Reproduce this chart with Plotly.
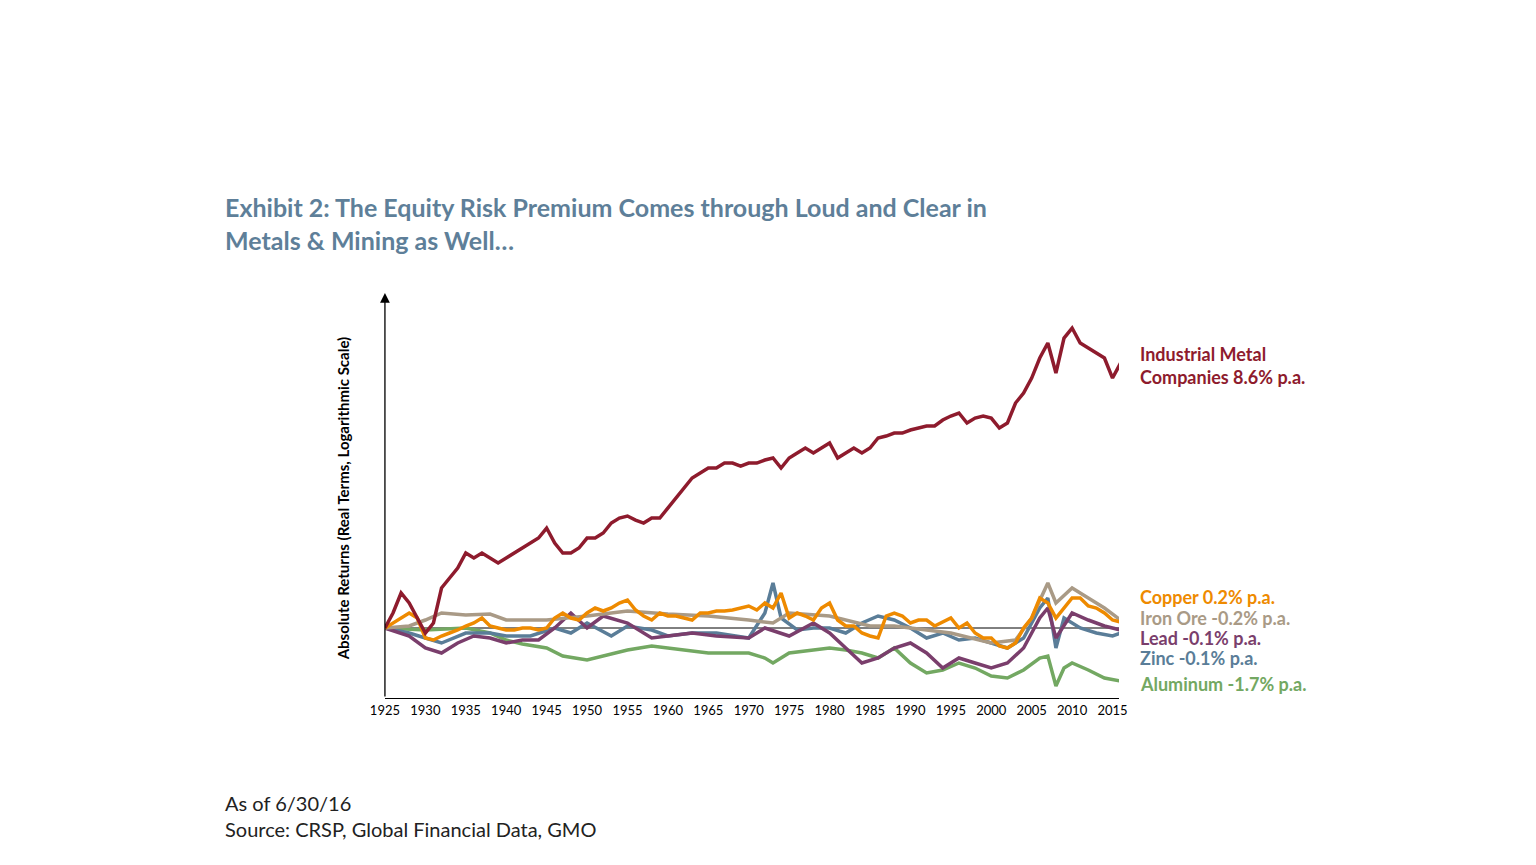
import plotly.graph_objects as go

# values are log-scale offsets from the 1925 starting level (arbitrary units)
ind_years = list(range(1925, 2017))
ind_vals = [0, 15, 35, 25, 10, -5, 5, 40, 50, 60, 75, 70, 75, 70, 65, 70, 75, 80, 85, 90,
            100, 85, 75, 75, 80, 90, 90, 95, 105, 110, 112, 108, 105, 110, 110, 120, 130, 140,
            150, 155, 160, 160, 165, 165, 162, 165, 165, 168, 170, 160, 170, 175, 180, 175,
            180, 185, 170, 175, 180, 175, 180, 190, 192, 195, 195, 198, 200, 202, 202, 208,
            212, 215, 205, 210, 212, 210, 200, 205, 225, 235, 250, 270, 285, 255, 290, 300,
            285, 280, 275, 270, 250, 265]

cu_years = list(range(1925, 2017))
cu_vals = [0, 5, 10, 15, 10, -10, -12, -8, -5, -2, 2, 5, 10, 2, 0, -2, -2, 0, 0, -2, 0, 10,
           15, 10, 8, 15, 20, 17, 20, 25, 28, 18, 12, 8, 15, 12, 12, 10, 8, 15, 15, 17, 17, 18,
           20, 22, 18, 25, 20, 35, 10, 15, 12, 8, 20, 25, 8, 2, 2, -5, -8, -10, 12, 15, 12, 5,
           8, 8, 2, 6, 10, 0, 5, -5, -10, -10, -18, -20, -15, 0, 10, 30, 25, 10, 20, 30, 30,
           22, 20, 15, 8, 6]

fe_years = [1925, 1928, 1930, 1932, 1935, 1938, 1940, 1945, 1950, 1955, 1960, 1965, 1970,
            1973, 1975, 1980, 1985, 1988, 1990, 1995, 2000, 2003, 2005, 2007, 2008, 2010,
            2012, 2014, 2016]
fe_vals = [0, 2, 8, 15, 13, 14, 8, 8, 12, 17, 14, 12, 8, 5, 15, 12, 2, 2, 0, -5, -15, -12,
           10, 45, 25, 40, 30, 20, 8]

pb_years = [1925, 1928, 1930, 1932, 1934, 1936, 1938, 1940, 1942, 1944, 1946, 1948, 1950,
            1952, 1955, 1958, 1960, 1963, 1966, 1970, 1972, 1975, 1978, 1980, 1982, 1984,
            1986, 1988, 1990, 1992, 1994, 1996, 1998, 2000, 2002, 2004, 2006, 2007, 2008,
            2010, 2012, 2014, 2016]
pb_vals = [0, -8, -20, -25, -15, -8, -10, -15, -12, -12, 0, 15, 0, 12, 5, -10, -8, -5, -8,
           -10, 0, -8, 5, -5, -20, -35, -30, -20, -15, -25, -40, -30, -35, -40, -35, -20, 10,
           20, -10, 15, 8, 2, -2]

zn_years = [1925, 1928, 1930, 1932, 1935, 1938, 1940, 1943, 1946, 1948, 1950, 1953, 1955,
            1958, 1960, 1963, 1966, 1970, 1972, 1973, 1974, 1976, 1978, 1980, 1982, 1984,
            1986, 1988, 1990, 1992, 1994, 1996, 1998, 2000, 2002, 2004, 2006, 2007, 2008,
            2009, 2011, 2013, 2015, 2016]
zn_vals = [0, -5, -10, -15, -5, -5, -8, -8, 0, -5, 5, -8, 2, -2, -8, -5, -5, -10, 15, 45,
           10, -2, 0, 0, -5, 5, 12, 8, 0, -10, -5, -12, -10, -15, -20, -10, 20, 30, -20, 10,
           0, -5, -8, -5]

al_years = [1925, 1930, 1935, 1938, 1940, 1942, 1945, 1947, 1950, 1952, 1955, 1958, 1960,
            1963, 1965, 1970, 1972, 1973, 1975, 1978, 1980, 1982, 1984, 1986, 1988, 1990,
            1992, 1994, 1996, 1998, 2000, 2002, 2004, 2006, 2007, 2008, 2009, 2010, 2012,
            2014, 2016]
al_vals = [0, -2, 0, -5, -12, -16, -20, -28, -32, -28, -22, -18, -20, -23, -25, -25, -30,
           -35, -25, -22, -20, -22, -25, -30, -20, -35, -45, -42, -35, -40, -48, -50, -42,
           -30, -28, -58, -40, -35, -42, -50, -53]

series = [
    ("Aluminum", al_years, al_vals, "#73A862"),
    ("Zinc", zn_years, zn_vals, "#5A7D98"),
    ("Lead", pb_years, pb_vals, "#7A3E6C"),
    ("Iron Ore", fe_years, fe_vals, "#A99A86"),
    ("Copper", cu_years, cu_vals, "#EE8A00"),
    ("Industrial Metal Companies", ind_years, ind_vals, "#8E1B2D"),
]

labels = [
    ("Industrial Metal<br>Companies 8.6% p.a.", 263, "#8E1B2D"),
    ("Copper 0.2% p.a.", 31, "#EE8A00"),
    ("Iron Ore -0.2% p.a.", 10, "#A99A86"),
    ("Lead -0.1% p.a.", -10, "#7A3E6C"),
    ("Zinc -0.1% p.a.", -30, "#5A7D98"),
    ("Aluminum -1.7% p.a.", -56, "#73A862"),
]

FONT = "Lato"
fig = go.Figure()
fig.add_trace(go.Scatter(x=[1925, 2016], y=[0, 0], mode="lines",
                         line=dict(color="black", width=1), showlegend=False))
for name, xs, ys, c in series:
    fig.add_trace(go.Scatter(x=xs, y=ys, mode="lines", name=name,
                             line=dict(color=c, width=3.5), showlegend=False))

for text, y, c in labels:
    fig.add_annotation(x=0.736, xref="paper", y=y, yref="y", text="<b>" + text + "</b>",
                       showarrow=False, xanchor="left", yanchor="middle", align="left",
                       font=dict(family=FONT, size=18, color=c))

fig.add_annotation(x=0.14, y=0.712, xref="paper", yref="paper", xanchor="left", yanchor="bottom",
                   text="<b>Exhibit 2: The Equity Risk Premium Comes through Loud and Clear in<br>Metals &amp; Mining as Well…</b>",
                   showarrow=False, align="left", font=dict(family=FONT, size=25, color="#5E7F99"))
fig.add_annotation(x=0.14, y=0.035, xref="paper", yref="paper", xanchor="left", yanchor="bottom",
                   text="As of 6/30/16<br>Source: CRSP, Global Financial Data, GMO",
                   showarrow=False, align="left", font=dict(family=FONT, size=20, color="#222"))
# y-axis arrow
fig.add_annotation(x=1925, y=335, ax=1925, ay=-70, xref="x", yref="y", axref="x", ayref="y",
                   showarrow=True, arrowhead=2, arrowsize=1.5, arrowwidth=1.3, arrowcolor="black", text="")

fig.update_layout(
    width=1536, height=865, autosize=False, margin=dict(l=0, r=0, t=0, b=0, autoexpand=False),
    paper_bgcolor="white", plot_bgcolor="white", font=dict(family=FONT),
    xaxis=dict(domain=[0.2454, 0.7233], range=[1925, 2015.8], tickvals=list(range(1925, 2016, 5)),
               showgrid=False, zeroline=False, showline=True, linecolor="black", automargin=False,
               ticks="", tickfont=dict(size=13, color="black")),
    yaxis=dict(domain=[0.2023, 0.6647], range=[-70, 330], showgrid=False, zeroline=False,
               showticklabels=False, showline=False, automargin=False,
               title=dict(text="<b>Absolute Returns (Real Terms, Logarithmic Scale)</b>",
                          font=dict(size=15, color="black"), standoff=30)),
)
fig.write_html("out.html")
